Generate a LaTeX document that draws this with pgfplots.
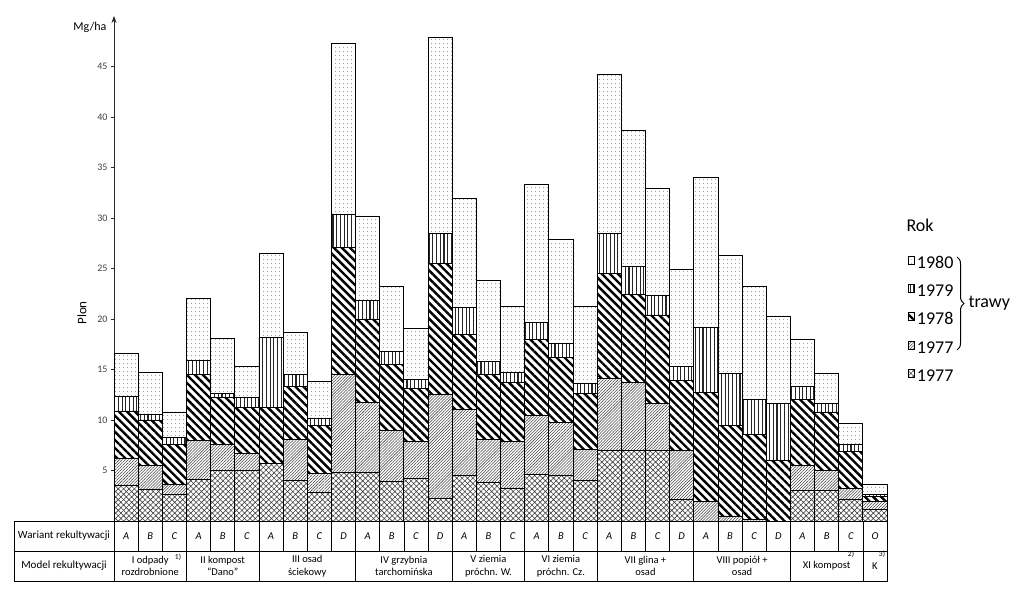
\documentclass[border=0pt]{standalone}
\usepackage{fontspec}
\setmainfont{Carlito}
\usepackage{pgfplots}
\pgfplotsset{compat=1.18}
\usepackage{pgfplotstable}
\usetikzlibrary{patterns.meta,decorations.pathreplacing,arrows.meta}

% increments per layer: c = 1977 (other), f = 1977 grasses, t = 1978, v = 1979, d = 1980
\pgfplotstableread{
x    c   f    t    v    d
0.5  3.5 2.7  4.7  1.4  4.3
1.5  3.1 2.4  4.5  0.6  4.1
2.5  2.6 1.0  4.0  0.7  2.5
3.5  4.1 3.9  6.5  1.4  6.1
4.5  5.0 2.6  4.6  0.4  5.5
5.5  5.0 1.7  4.5  1.0  3.1
6.5  5.7 0.0  5.5  7.0  8.3
7.5  4.0 4.1  5.2  1.2  4.2
8.5  2.8 1.9  4.8  0.7  3.6
9.5  4.8 9.7  12.6 3.3  16.9
10.5 4.8 6.9  8.3  1.8  8.4
11.5 3.9 5.1  6.5  1.3  6.4
12.5 4.2 3.7  5.2  0.9  5.1
13.5 2.2 10.3 13.0 3.0  19.4
14.5 4.5 6.5  7.5  2.6  10.8
15.5 3.8 4.3  6.4  1.3  8.0
16.5 3.2 4.7  5.8  1.0  6.5
17.5 4.6 5.9  7.5  1.7  13.6
18.5 4.5 5.3  6.4  1.4  10.3
19.5 4.0 3.1  5.5  1.0  7.6
20.5 7.0 7.1  10.4 4.0  15.7
21.5 7.0 6.7  8.7  2.8  13.5
22.5 7.0 4.6  8.8  1.9  10.6
23.5 2.1 4.9  6.9  1.4  9.6
24.5 0.0 1.9  10.8 6.5  14.8
25.5 0.0 0.5  9.0  5.1  11.7
26.5 0.0 0.2  8.4  3.4  11.2
27.5 0.0 0.0  6.0  5.6  8.7
28.5 3.0 2.5  6.5  1.3  4.7
29.5 3.0 2.0  5.8  0.8  3.0
30.5 2.1 1.1  3.7  0.7  2.1
31.5 1.1 0.8  0.5  0.25 1.0
}\plon

\tikzset{
  leg/.style={legend image code/.code={\draw[##1, line width=0.8pt] (0pt,-4pt) rectangle (8pt,4pt);}},
}

\begin{document}
\begin{tikzpicture}[x=1pt,y=1pt]
\begin{axis}[
  at={(0,0)}, anchor=south west,
  scale only axis, width=773pt, height=505pt,
  xmin=0, xmax=32, ymin=0, ymax=50,
  ybar stacked, bar width=1,
  axis y line=left, axis x line=bottom,
  x axis line style={draw=none},
  y axis line style={-{Stealth[length=7pt,width=5pt]}, line width=0.8pt, black!85},
  xtick=\empty,
  ytick={5,10,...,45},
  tick align=outside, major tick length=3pt,
  ytick style={black!85, line width=0.6pt},
  yticklabel style={font=\fontsize{10}{10}\selectfont, text=black!75},
  /pgf/number format/assume math mode=true,
  clip=false,
  reverse legend,
  legend style={at={(1.027,0.4006)}, anchor=west, draw=none, fill=none, inner sep=0pt,
    font=\fontsize{18}{18}\selectfont, row sep=16pt,
    nodes={inner sep=0pt, text height=12pt, text depth=0pt},
    /tikz/every even column/.append style={column sep=0pt},
    /tikz/every odd column/.append style={column sep=2pt}},
  legend cell align=left,
]
\addplot[leg, draw=black, line width=0.8pt, pattern={Hatch[angle=45,distance=3.8pt,line width=0.6pt]}, pattern color=black!75]
  table[x=x,y=c]{\plon};
\addlegendentry{1977}
\addplot[leg, draw=black, line width=0.8pt, pattern={Lines[angle=45,distance=2.1pt,line width=0.55pt]}, pattern color=black!72]
  table[x=x,y=f]{\plon};
\addlegendentry{1977}
\addplot[leg, draw=black, line width=0.8pt, pattern={Lines[angle=-45,distance=5.7pt,line width=2.4pt]}, pattern color=black]
  table[x=x,y=t]{\plon};
\addlegendentry{1978}
\addplot[leg, draw=black, line width=0.8pt, pattern={Lines[angle=90,distance=3.7pt,line width=1.1pt]}, pattern color=black!85]
  table[x=x,y=v]{\plon};
\addlegendentry{1979}
\addplot[leg, draw=black, line width=0.8pt, pattern={Dots[distance=4pt,radius=0.55pt]}, pattern color=black!65]
  table[x=x,y=d]{\plon};
\addlegendentry{1980}
\end{axis}

% axis annotations
\node[anchor=east, font=\fontsize{12}{12}\selectfont] at (-4,494) {Mg/ha};
\node[rotate=90, font=\fontsize{13}{13}\selectfont] at (-32,208) {Plon};

% legend title and brace
\node[anchor=west, font=\fontsize{18}{18}\selectfont] at (789,296) {Rok};
\draw[decorate, decoration={brace, amplitude=7pt}, line width=1pt] (843,264) -- (843,171);
\node[anchor=west, font=\fontsize{18}{18}\selectfont] at (851,218) {trawy};

% table below the axis
\def\bw{24.15625}
\draw[line width=0.8pt] (-100,0) rectangle (773,-60);
\draw[line width=0.8pt] (-100,-30) -- (773,-30);
\draw[line width=0.8pt] (0,0) -- (0,-60);
\foreach \i in {1,...,31} \draw[line width=0.7pt] ({\i*\bw},0) -- ({\i*\bw},-30);
\foreach \i in {3,6,10,14,17,20,24,28,31} \draw[line width=0.7pt] ({\i*\bw},-30) -- ({\i*\bw},-60);
\begin{scope}[every node/.style={font=\fontsize{10.5}{12.5}\selectfont, align=center}]
\node[font=\fontsize{11}{12.5}\selectfont] at (-50,-15) {Wariant rekultywacji};
\node[font=\fontsize{11}{12.5}\selectfont] at (-50,-45) {Model rekultywacji};
\foreach \l [count=\i from 0] in {A,B,C,A,B,C,A,B,C,D,A,B,C,D,A,B,C,A,B,C,A,B,C,D,A,B,C,D,A,B,C,O}
  \node[font=\fontsize{10.5}{12.5}\selectfont\itshape] at ({(\i+0.5)*\bw},-15) {\l};
\node at ({1.5*\bw},-45) {I odpady\\rozdrobnione};
\node at ({4.5*\bw},-45) {II kompost\\“Dano”};
\node at ({8*\bw},-45) {III osad\\ściekowy};
\node at ({12*\bw},-45) {IV grzybnia\\tarchomińska};
\node at ({15.5*\bw},-45) {V ziemia\\próchn. W.};
\node at ({18.5*\bw},-45) {VI ziemia\\próchn. Cz.};
\node at ({22*\bw},-45) {VII glina +\\osad};
\node at ({26*\bw},-45) {VIII popiół +\\osad};
\node at ({29.5*\bw},-45) {XI kompost};
\node at ({31.5*\bw},-45) {K};
\end{scope}
\begin{scope}[every node/.style={font=\fontsize{7.5}{7.5}\selectfont}]
\node at (64,-36) {1)};
\node at (737,-33) {2)};
\node at (768,-33) {3)};
\end{scope}

\pgfresetboundingbox
\path[use as bounding box] (-114,-70) rectangle (910,521);
\end{tikzpicture}
\end{document}
